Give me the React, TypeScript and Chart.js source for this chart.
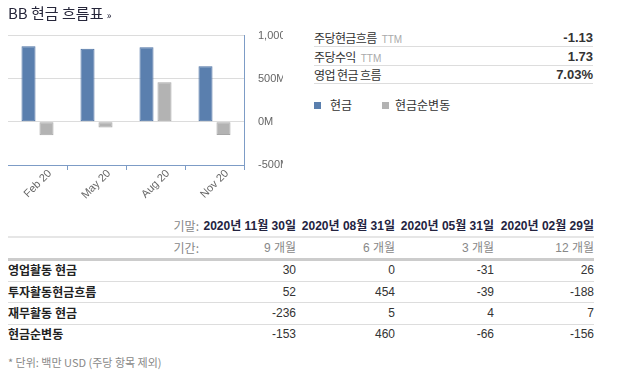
import React, { useEffect, useRef } from "react";
import { Chart, registerables } from "chart.js";

Chart.register(...registerables);

const categories = ["Feb 20", "May 20", "Aug 20", "Nov 20"];
const cashValues = [877, 847, 865, 646];
const netChangeValues = [-156, -66, 460, -153];
const yTicks = [-500, 0, 500, 1000];
const yTickLabels = ["-500M", "0M", "500M", "1,000"];

const statLabels = ["주당현금흐름", "주당수익", "영업 현금 흐름"];
const statSuffix = ["TTM", "TTM", ""];
const statValues = ["-1.13", "1.73", "7.03%"];

const periodDates = ["2020년 11월 30일", "2020년 08월 31일", "2020년 05월 31일", "2020년 02월 29일"];
const periodLengths = ["9 개월", "6 개월", "3 개월", "12 개월"];
const rowLabels = ["영업활동 현금", "투자활동현금흐름", "재무활동 현금", "현금순변동"];
const rowValues = [
  ["30", "0", "-31", "26"],
  ["52", "454", "-39", "-188"],
  ["-236", "5", "4", "7"],
  ["-153", "460", "-66", "-156"],
];

const BLUE = "#5a7fae";
const BLUE_BORDER = "#4b70a3";
const GRAY = "#b3b3b3";
const GRAY_BORDER = "#a6a6a6";
const AXIS = "#7d9cc6";
const KR = '"Noto Sans CJK KR", "Noto Sans", sans-serif';
const NARROW = '"Liberation Sans Narrow", "Liberation Sans", "Noto Sans CJK KR", sans-serif';

const CANVAS_TOP = 15;
const CANVAS_H = 191;

function BarChart() {
  const ref = useRef<HTMLCanvasElement | null>(null);
  useEffect(() => {
    if (!ref.current) return;
    const chart = new Chart(ref.current, {
      type: "bar",
      data: {
        labels: categories,
        datasets: [
          {
            label: "현금",
            data: cashValues,
            backgroundColor: BLUE,
            borderColor: BLUE_BORDER,
            borderWidth: 1,
            borderSkipped: false,
            barPercentage: 0.78,
            categoryPercentage: 0.61,
          },
          {
            label: "현금순변동",
            data: netChangeValues,
            backgroundColor: GRAY,
            borderColor: GRAY_BORDER,
            borderWidth: 1,
            borderSkipped: false,
            barPercentage: 0.78,
            categoryPercentage: 0.61,
          },
        ],
      },
      options: {
        animation: false,
        responsive: false,
        layout: { padding: { top: 0, left: 0, right: 0, bottom: 0 } },
        plugins: { legend: { display: false }, tooltip: { enabled: false } },
        scales: {
          x: {
            grid: {
              offset: true,
              drawOnChartArea: false,
              drawTicks: true,
              tickLength: 5,
              color: (ctx: any) => (ctx.index === 0 ? "rgba(0,0,0,0)" : AXIS),
            },
            border: { color: AXIS, width: 1 },
            ticks: {
              minRotation: 45,
              maxRotation: 45,
              color: "#666",
              padding: -3,
              labelOffset: 12.5,
              font: { size: 11, family: '"Liberation Sans", Arial, sans-serif' },
            },
            afterFit: (s: any) => {
              s.height = 41;
            },
          },
          y: {
            position: "right",
            min: -500,
            max: 1000,
            afterBuildTicks: (s: any) => {
              s.ticks = yTicks.map((v) => ({ value: v }));
            },
            ticks: {
              color: "#666",
              padding: 14,
              font: { size: 11, family: '"Liberation Sans", Arial, sans-serif' },
              callback: (v: any) => {
                const i = yTicks.indexOf(Number(v));
                return i >= 0 ? yTickLabels[i] : "";
              },
            },
            grid: {
              drawTicks: false,
              color: (ctx: any) => (ctx.tick && ctx.tick.value === -500 ? "rgba(0,0,0,0)" : "#dcdcdc"),
            },
            border: { color: AXIS, width: 1 },
            afterFit: (s: any) => {
              s.width = 64;
            },
          },
        },
      },
    } as any);
    return () => chart.destroy();
  }, []);
  return (
    <div style={{ position: "absolute", left: 8, top: CANVAS_TOP, width: 275, height: CANVAS_H, overflow: "hidden" }}>
      <canvas ref={ref} width={300} height={CANVAS_H} style={{ display: "block", width: 300, height: CANVAS_H }} />
    </div>
  );
}

const abs = (o: any) => ({ position: "absolute" as const, ...o });

export default function App() {
  const statRowTops = [29, 47.5, 65.5];
  const rowCenters = [270, 291.7, 313.3, 334.3];
  const colRights = [296, 395, 494, 594];
  return (
    <div style={{ position: "absolute", left: 0, top: 0, width: 621, height: 370, background: "#fff", fontFamily: KR, color: "#333" }}>
      <BarChart />

      <div style={abs({ left: 8, top: 3, height: 20, lineHeight: "20px", fontSize: 15, color: "#26263a", whiteSpace: "nowrap" })}>
        BB 현금 흐름표 <span style={{ fontSize: 10 }}>»</span>
      </div>

      {statLabels.map((l, i) => (
        <div
          key={l}
          style={abs({
            left: 314,
            top: statRowTops[i],
            width: 279,
            height: 17,
            lineHeight: "17px",
            borderBottom: "1px solid #dddddd",
            fontSize: 12,
            whiteSpace: "nowrap",
          })}
        >
          <span style={{ color: "#333", letterSpacing: -0.6 }}>{l}</span>
          {statSuffix[i] ? (
            <span style={{ color: "#aaa", fontSize: 10, marginLeft: 5, fontFamily: '"Liberation Sans", sans-serif' }}>{statSuffix[i]}</span>
          ) : null}
          <span style={{ position: "absolute", right: 0, top: 0, fontWeight: "bold", color: "#333", fontFamily: NARROW, fontSize: 13 }}>
            {statValues[i]}
          </span>
        </div>
      ))}

      <div style={abs({ left: 314, top: 102, width: 7, height: 7, background: BLUE })} />
      <div style={abs({ left: 330, top: 96, height: 18, lineHeight: "18px", fontSize: 12, whiteSpace: "nowrap" })}>현금</div>
      <div style={abs({ left: 382, top: 102, width: 7, height: 7, background: GRAY })} />
      <div style={abs({ left: 395, top: 96, height: 18, lineHeight: "18px", fontSize: 12, whiteSpace: "nowrap" })}>현금순변동</div>

      <div style={abs({ left: 99, top: 217, width: 100, height: 18, lineHeight: "18px", textAlign: "right", fontSize: 12, color: "#888" })}>기말:</div>
      {periodDates.map((d, i) => (
        <div
          key={d}
          style={abs({
            left: colRights[i] - 100,
            top: 217,
            width: 100,
            height: 18,
            lineHeight: "18px",
            textAlign: "right",
            fontSize: 12,
            fontWeight: "bold",
            color: "#23233f",
            fontFamily: NARROW,
            whiteSpace: "nowrap",
          })}
        >
          {d}
        </div>
      ))}
      <div style={abs({ left: 8, top: 236, width: 586, height: 2, background: "#e6e6e6" })} />

      <div style={abs({ left: 99, top: 239, width: 100, height: 18, lineHeight: "18px", textAlign: "right", fontSize: 12, color: "#888" })}>기간:</div>
      {periodLengths.map((p, i) => (
        <div
          key={p}
          style={abs({
            left: colRights[i] - 100,
            top: 239,
            width: 100,
            height: 18,
            lineHeight: "18px",
            textAlign: "right",
            fontSize: 12,
            color: "#888",
            fontFamily: NARROW,
            whiteSpace: "nowrap",
          })}
        >
          {p}
        </div>
      ))}
      <div style={abs({ left: 8, top: 258, width: 586, height: 3, background: "#cccccc" })} />

      {rowLabels.map((r, ri) => (
        <React.Fragment key={r}>
          <div
            style={abs({
              left: 8,
              top: rowCenters[ri] - 9,
              height: 18,
              lineHeight: "18px",
              fontSize: 12,
              fontWeight: "bold",
              color: "#222",
              whiteSpace: "nowrap",
            })}
          >
            {r}
          </div>
          {rowValues[ri].map((v, ci) => (
            <div
              key={ci}
              style={abs({
                left: colRights[ci] - 100,
                top: rowCenters[ri] - 9,
                width: 100,
                height: 18,
                lineHeight: "18px",
                textAlign: "right",
                fontSize: 12,
                color: "#333",
                fontFamily: NARROW,
              })}
            >
              {v}
            </div>
          ))}
          {ri < rowLabels.length - 1 ? (
            <div style={abs({ left: 8, top: rowCenters[ri] + 10.5, width: 586, height: 1, background: "#dddddd" })} />
          ) : null}
        </React.Fragment>
      ))}

      <div style={abs({ left: 8, top: 353, height: 18, lineHeight: "18px", fontSize: 11, color: "#888", whiteSpace: "nowrap" })}>
        * 단위: 백만 USD (주당 항목 제외)
      </div>
    </div>
  );
}
